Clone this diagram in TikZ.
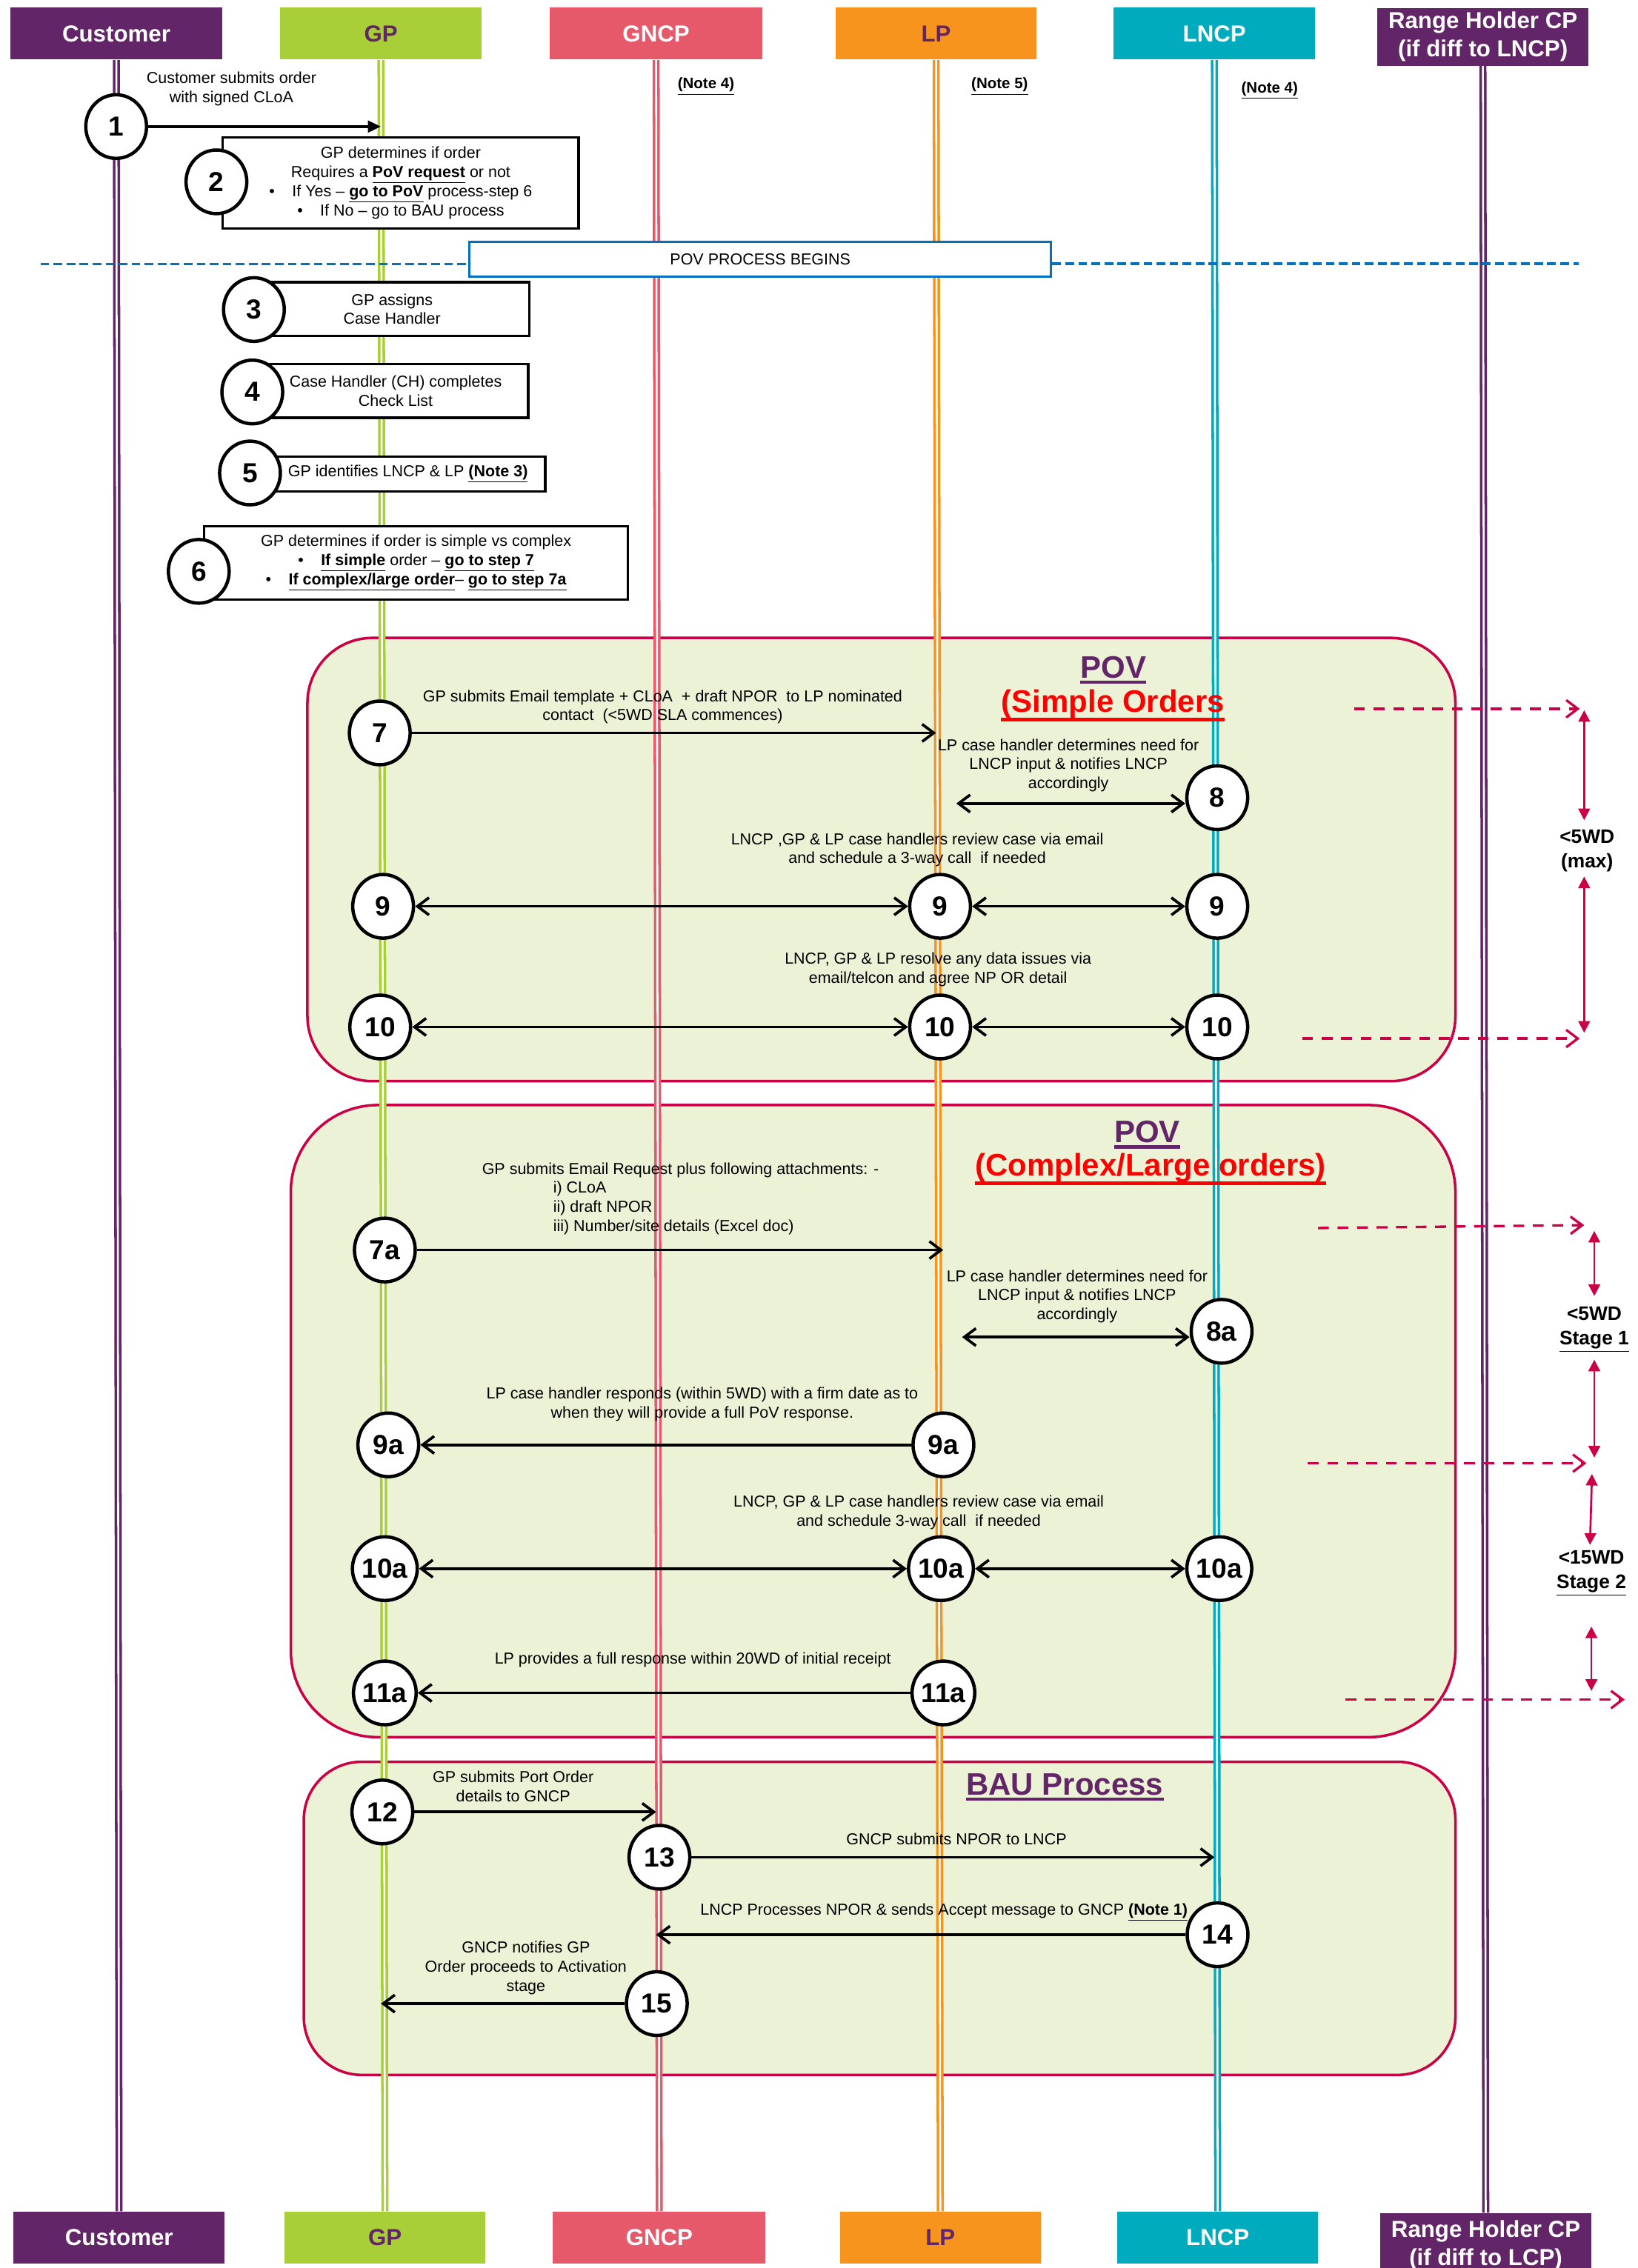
\documentclass[tikz,border=0pt]{standalone}
\usepackage{fontspec}
\setmainfont{Liberation Sans}
\usetikzlibrary{arrows.meta,calc,shapes.geometric}
\definecolor{cpurple}{RGB}{98,37,103}
\definecolor{cgreen}{RGB}{169,207,56}
\definecolor{cgncp}{RGB}{230,89,106}
\definecolor{corange}{RGB}{247,148,30}
\definecolor{cteal}{RGB}{0,171,189}
\definecolor{cblue}{RGB}{0,112,192}
\definecolor{ccrim}{RGB}{204,0,68}
\definecolor{cpale}{RGB}{236,242,214}
\definecolor{cred}{RGB}{255,0,0}
\newcommand{\ubf}[1]{\underline{\textbf{#1}}}

\begin{document}
\begin{tikzpicture}[x=1pt, y=-1pt,
    >={Straight Barb[length=8pt,width=12pt]},
    head/.style={minimum height=36pt, inner sep=0pt, align=center,
                 font=\fontsize{16}{19.5}\selectfont\bfseries},
    life/.style={line width=1.8pt, double=white, double distance=1.3pt},
    task/.style={draw, fill=white, line width=1.8pt, inner sep=0pt, align=center,
                 font=\fontsize{11}{13.2}\selectfont},
    num/.style={ellipse, draw, fill=white, line width=2.3pt, minimum width=42pt,
                minimum height=44pt, inner sep=0pt, font=\fontsize{19}{19}\selectfont\bfseries},
    lbl/.style={align=center, inner sep=0pt, font=\fontsize{11}{13.2}\selectfont},
    note/.style={inner sep=0pt, font=\fontsize{10.5}{12}\selectfont},
    title/.style={inner sep=0pt, anchor=base, font=\fontsize{21.5}{24}\selectfont\bfseries},
    zone/.style={draw=ccrim, fill=cpale, line width=1.8pt},
    msg/.style={->, line width=1.9pt},
    msgb/.style={<->, line width=1.9pt},
    povdash/.style={draw=cblue, line width=1.8pt, dash pattern=on 6pt off 3pt},
    tdash/.style={->, draw=ccrim, line width=1.7pt, dash pattern=on 7.5pt off 6pt},
    tspan/.style={draw=ccrim, line width=1.4pt,
                  {Triangle[length=8pt,width=8pt]}-{Triangle[length=8pt,width=8pt]}},
    wd/.style={align=center, inner sep=0pt, font=\fontsize{13.5}{17}\selectfont\bfseries}
  ]
  \useasboundingbox (0,0) rectangle (1132,1568);

  % Process areas
  \draw[zone, rounded corners=45pt] (212.5,441) rectangle (1006,747.5);
  \draw[zone, rounded corners=60pt] (201,764) rectangle (1006,1201);
  \draw[zone, rounded corners=40pt] (210,1218) rectangle (1006,1434.5);

  % Parties, top
  \node[head, fill=cpurple, text=white, minimum width=146pt] (custT) at (80.4,23.2) {Customer};
  \node[head, fill=cgreen, text=cpurple, minimum width=139pt] (gpT) at (263.3,23.2) {GP};
  \node[head, fill=cgncp, text=white, minimum width=147pt] (gncpT) at (453.5,23.2) {GNCP};
  \node[head, fill=corange, text=cpurple, minimum width=139pt] (lpT) at (647,23.2) {LP};
  \node[head, fill=cteal, text=white, minimum width=139pt] (lncpT) at (839.4,23.2) {LNCP};
  \node[head, fill=cpurple, text=white, minimum width=146pt, minimum height=40pt] (rhT) at (1025,25.5) {Range Holder CP\\(if diff to LNCP)};

  % Parties, bottom
  \node[head, fill=cpurple, text=white, minimum width=146pt] (custB) at (82.3,1547) {Customer};
  \node[head, fill=cgreen, text=cpurple, minimum width=139pt] (gpB) at (266.1,1547) {GP};
  \node[head, fill=cgncp, text=white, minimum width=147pt] (gncpB) at (455.7,1547) {GNCP};
  \node[head, fill=corange, text=cpurple, minimum width=139pt] (lpB) at (650,1547) {LP};
  \node[head, fill=cteal, text=white, minimum width=139pt] (lncpB) at (841.7,1547) {LNCP};
  \node[head, fill=cpurple, text=white, minimum width=146pt, minimum height=45pt] (rhB) at (1027,1552.5) {Range Holder CP\\(if diff to LCP)};

  % Lifelines
  \foreach \a/\b/\c in {custT/custB/cpurple, gpT/gpB/cgreen, gncpT/gncpB/cgncp,
                        lpT/lpB/corange, lncpT/lncpB/cteal, rhT/rhB/cpurple}
    \draw[life, draw=\c] (\a) -- (\b);

  % POV start
  \node[draw=cblue, line width=1.8pt, fill=white, minimum width=402pt, minimum height=24pt,
        inner sep=0pt, font=\fontsize{11}{13}\selectfont] (pov) at (525.5,179.2) {POV PROCESS BEGINS};
  \coordinate (povL) at (28,182.6);
  \coordinate (povR) at (1091,182.4);
  \draw[povdash] (povL) -- (povL -| pov.west);
  \draw[povdash] (povR -| pov.east) -- (povR);

  % GP checks
  \node[task, minimum width=246pt, minimum height=63pt] (b2) at (277,126.5) {GP determines if order\\Requires a \ubf{PoV request} or not\\•\hspace{12pt}If Yes – \ubf{go to PoV} process-step 6\\•\hspace{12pt}If No – go to BAU process};
  \node[task, minimum width=190pt, minimum height=37pt] (b3) at (271,213.7) {GP assigns\\Case Handler};
  \node[task, minimum width=183pt, minimum height=37pt] (b4) at (273.5,270.3) {Case Handler (CH) completes\\Check List};
  \node[task, minimum width=190pt, minimum height=24pt] (b5) at (282,327.7) {GP identifies LNCP \& LP \ubf{(Note 3)}};
  \node[task, minimum width=293pt, minimum height=50.5pt] (b6) at (287.6,389.2) {GP determines if order is simple vs complex\\•\hspace{12pt}\ubf{If simple} order – \ubf{go to step 7}\\•\hspace{12pt}\ubf{If complex/large order}– \ubf{go to step 7a}};

  % Step circles
  \node[num] (c1) at (80.3,87.5) {1};
  \node[num] (c2) at (149.6,125.7) {2};
  \node[num] (c3) at (175.5,214) {3};
  \node[num] (c4) at (174.4,271) {4};
  \node[num] (c5) at (172.8,327) {5};
  \node[num] (c6) at (137.4,395) {6};
  \node[num] (c7) at (262.5,506.7) {7};
  \node[num] (c8) at (841.4,551.5) {8};
  \node[num] (g9) at (264.8,626.6) {9};
  \node[num] (l9) at (649.8,626.6) {9};
  \node[num] (n9) at (841.4,626.6) {9};
  \node[num] (g10) at (262.8,710) {10};
  \node[num] (l10) at (649.8,710) {10};
  \node[num] (n10) at (841.4,710) {10};
  \node[num] (c7a) at (266,864.2) {7a};
  \node[num] (c8a) at (844.4,920.4) {8a};
  \node[num] (g9a) at (268.4,998.9) {9a};
  \node[num] (l9a) at (652.1,998.9) {9a};
  \node[num] (g10a) at (266,1084.5) {10a};
  \node[num] (l10a) at (650.4,1084.5) {10a};
  \node[num] (n10a) at (842.8,1084.5) {10a};
  \node[num] (g11a) at (266,1170.4) {11a};
  \node[num] (l11a) at (652.1,1170.4) {11a};
  \node[num] (c12) at (264.3,1252.7) {12};
  \node[num] (c13) at (455.8,1284) {13};
  \node[num] (c14) at (841.6,1337.6) {14};
  \node[num] (c15) at (454,1385.2) {15};

  % Messages
  \draw[line width=1.9pt, -{Triangle[length=9pt,width=8pt]}] (c1) -- (c1 -| gpT);
  \draw[msg] (c7) -- (c7 -| lpT);
  \draw[msgb] ($(c8 -| lpT)+(14,4)$) -- ($(c8.west)+(0,4)$);
  \draw[msgb] (g9) -- (l9);
  \draw[msgb] (l9) -- (n9);
  \draw[msgb] (g10) -- (l10);
  \draw[msgb] (l10) -- (n10);
  \draw[msg] (c7a) -- ($(c7a -| lpT)+(5,0)$);
  \draw[msgb] ($(c8a -| lpT)+(18,4)$) -- ($(c8a.west)+(0,4)$);
  \draw[msg] (l9a) -- (g9a);
  \draw[msgb] (g10a) -- (l10a);
  \draw[msgb] (l10a) -- (n10a);
  \draw[msg] (l11a) -- (g11a);
  \draw[msg] (c12) -- (c12 -| gncpT);
  \draw[msg] (c13) -- (c13 -| lncpT);
  \draw[msg] (c14) -- (c14 -| gncpT);
  \draw[msg] (c15) -- (c15 -| gpT);

  % Labels, top
  \node[lbl] (t1) at (160,61.4) {Customer submits order\\with signed CLoA};
  \node[note] (n4a) at (488,59.7) {\ubf{(Note 4)}};
  \node[note] (n5) at (691,59.7) {\ubf{(Note 5)}};
  \node[note] (n4b) at (877.6,62.3) {\ubf{(Note 4)}};

  % Simple orders
  \node[title, text=cpurple] (pov1) at (769.5,468.7) {POV};
  \draw[cpurple, line width=2.2pt] ([yshift=-3pt]pov1.base west) -- ([yshift=-3pt]pov1.base east);
  \node[title, text=cred] (so1) at (769.3,492.5) {(Simple Orders};
  \draw[cred, line width=2.2pt] ([yshift=-5pt]so1.base west) -- ([yshift=-5pt]so1.base east);
  \node[lbl] (t7) at (458,488.8) {GP submits Email template + CLoA\ \ + draft NPOR\ \ to LP nominated\\contact\ \ (<5WD SLA commences)};
  \node[lbl] (t8) at (738.5,529.2) {LP case handler determines need for\\LNCP input \& notifies LNCP\\accordingly};
  \node[lbl] (t9) at (634,587.6) {LNCP ,GP \& LP case handlers review case via email\\and schedule a 3-way call\ \ if needed};
  \node[lbl] (t10) at (648.4,670.4) {LNCP, GP \& LP resolve any data issues via\\email/telcon and agree NP OR detail};

  % Complex orders
  \node[title, text=cpurple] (pov2) at (793,790) {POV};
  \draw[cpurple, line width=2.2pt] ([yshift=-3pt]pov2.base west) -- ([yshift=-3pt]pov2.base east);
  \node[title, text=cred] (co1) at (795.3,813) {(Complex/Large orders)};
  \draw[cred, line width=2.2pt] ([yshift=-5pt]co1.base west) -- ([yshift=-5pt]co1.base east);
  \node[lbl] (t7a) at (470.4,809) {GP submits Email Request plus following attachments: -};
  \node[lbl, align=left, anchor=west] (t7b) at (382.2,835.2) {i) CLoA\\ii) draft NPOR\\iii) Number/site details (Excel doc)};
  \node[lbl] (t8a) at (744.5,896.3) {LP case handler determines need for\\LNCP input \& notifies LNCP\\accordingly};
  \node[lbl] (t9a) at (485.4,970.7) {LP case handler responds (within 5WD) with a firm date as to\\when they will provide a full PoV response.};
  \node[lbl] (t10a) at (635,1045.7) {LNCP, GP \& LP case handlers review case via email\\and schedule 3-way call\ \ if needed};
  \node[lbl] (t11a) at (478.9,1147.5) {LP provides a full response within 20WD of initial receipt};

  % BAU
  \node[title, text=cpurple] (bau) at (736,1240.8) {BAU Process};
  \draw[cpurple, line width=2.2pt] ([yshift=-3pt]bau.base west) -- ([yshift=-3pt]bau.base east);
  \node[lbl] (t12) at (354.7,1235) {GP submits Port Order\\details to GNCP};
  \node[lbl] (t13) at (661.1,1271.5) {GNCP submits NPOR to LNCP};
  \node[lbl] (t14) at (652.5,1321.9) {LNCP Processes NPOR \& sends Accept message to GNCP \ubf{(Note 1)}};
  \node[lbl] (t15) at (363.5,1360.7) {GNCP notifies GP\\Order proceeds to Activation\\stage};

  % Time limits
  \coordinate (s1a) at (936,490);    \coordinate (s1b) at (1092,490);
  \coordinate (s2a) at (900,718);    \coordinate (s2b) at (1092,718);
  \coordinate (s3a) at (911,849);    \coordinate (s3b) at (1095,847);
  \coordinate (s4a) at (904,1011.6); \coordinate (s4b) at (1096.6,1011.6);
  \coordinate (s5a) at (930,1175);   \coordinate (s5b) at (1123,1175);
  \foreach \a/\b in {s1a/s1b, s2a/s2b, s3a/s3b, s4a/s4b, s5a/s5b}
    \draw[tdash] (\a) -- (\b);

  \node[wd] (wd1) at (1097,588.2) {<5WD\\(max)};
  \node[wd] (wd2) at (1102,919) {<5WD\\\ubf{Stage 1}};
  \node[wd] (wd3) at (1100,1087.5) {<15WD\\\ubf{Stage 2}};
  \coordinate (v1a) at (1095,491);    \coordinate (v1b) at (1095,567);
  \coordinate (v2a) at (1095,606);    \coordinate (v2b) at (1095,714);
  \coordinate (v3a) at (1102,851);    \coordinate (v3b) at (1102,896);
  \coordinate (v4a) at (1102,940);    \coordinate (v4b) at (1102,1007.7);
  \coordinate (v5a) at (1100.4,1019); \coordinate (v5b) at (1099,1068);
  \coordinate (v6a) at (1100,1124.5); \coordinate (v6b) at (1100,1169);
  \foreach \a/\b in {v1a/v1b, v2a/v2b, v3a/v3b, v4a/v4b, v5a/v5b, v6a/v6b}
    \draw[tspan] (\a) -- (\b);
\end{tikzpicture}
\end{document}
